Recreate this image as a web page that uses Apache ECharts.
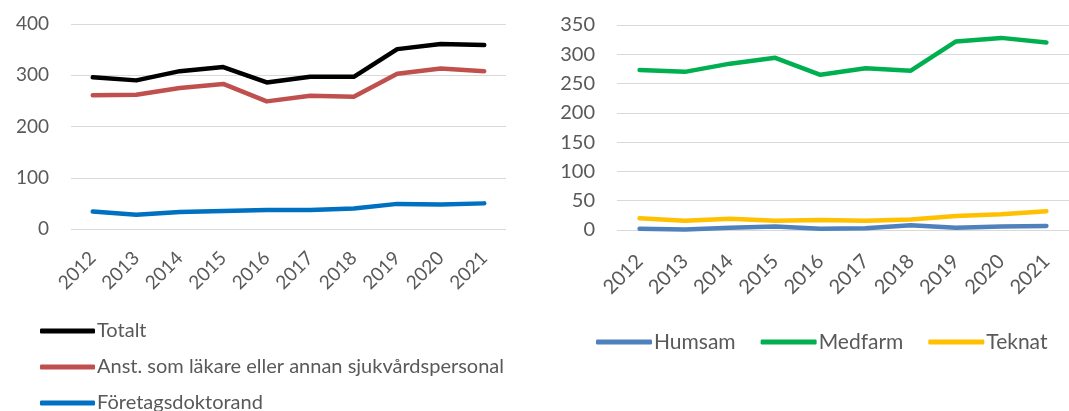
<!DOCTYPE html>
<html>
<head>
<meta charset="utf-8">
<script src="https://cdn.jsdelivr.net/npm/echarts@6/dist/echarts.min.js"></script>
<style>
  html, body { margin: 0; padding: 0; background: #fff; }
  #chart { width: 1069px; height: 411px; }
</style>
</head>
<body>
<div id="chart"></div>
<script>
// Years on both category axes
const years = ['2012', '2013', '2014', '2015', '2016', '2017', '2018', '2019', '2020', '2021'];

// Left panel: by employment type
const totalt = [296, 290, 308, 316, 286, 297, 297, 351, 361, 359];
const anstSjukvard = [261, 262, 275, 283, 249, 260, 258, 303, 313, 308];
const foretagsdoktorand = [34, 28, 33, 35, 37, 37, 40, 49, 48, 50];

// Right panel: by faculty area
const humsam = [2, 1, 4, 6, 2, 3, 8, 4, 6, 7];
const medfarm = [273, 270, 284, 294, 265, 276, 272, 322, 328, 320];
const teknat = [20, 16, 19, 16, 17, 16, 18, 24, 27, 32];

// Y-axis tick marks
const leftTicks = { min: 0, max: 400, interval: 100 };
const rightTicks = { min: 0, max: 350, interval: 50 };

const leftNames = ['Totalt', 'Anst. som läkare eller annan sjukvårdspersonal', 'Företagsdoktorand'];
const rightNames = ['Humsam', 'Medfarm', 'Teknat'];

const FONT = 'Lato, "Open Sans", sans-serif';
const TXT = '#595959';
const GRID_LINE = '#d9d9d9';

function valueAxis(gridIndex, t, size) {
  return {
    type: 'value', gridIndex, min: t.min, max: t.max, interval: t.interval,
    axisLine: { show: false }, axisTick: { show: false },
    splitLine: { lineStyle: { color: GRID_LINE, width: 1 } },
    axisLabel: { color: TXT, fontSize: size, fontFamily: FONT, margin: 22 }
  };
}
function catAxis(gridIndex, size, margin) {
  return {
    type: 'category', gridIndex, data: years, boundaryGap: true,
    axisLine: { show: false }, axisTick: { show: false },
    axisLabel: { color: TXT, fontSize: size, fontFamily: FONT, rotate: 45, margin, interval: 0 }
  };
}
function line(name, data, color, axis) {
  return {
    name, type: 'line', data, xAxisIndex: axis, yAxisIndex: axis,
    symbol: 'none', smooth: false,
    lineStyle: { color, width: 4.5, cap: 'round', join: 'round' },
    itemStyle: { color }
  };
}
// One single-row legend per entry of the stacked left key
function leftKey(name, top) {
  return {
    data: [name], orient: 'horizontal', left: 40, top, padding: 0,
    icon: 'roundRect', itemWidth: 55, itemHeight: 5,
    textStyle: { color: TXT, fontSize: 20, fontFamily: FONT, lineHeight: 20, padding: [0, 0, 0, -3] }
  };
}

const chart = echarts.init(document.getElementById('chart'), null, { renderer: 'canvas' });
chart.setOption({
  animation: false,
  backgroundColor: '#fff',
  grid: [
    { left: 71, right: 563, top: 24, bottom: 182 },
    { left: 617, right: 0, top: 25, bottom: 181 }
  ],
  xAxis: [catAxis(0, 19, 26), catAxis(1, 20, 28)],
  yAxis: [valueAxis(0, leftTicks, 19), valueAxis(1, rightTicks, 20)],
  legend: [
    leftKey(leftNames[0], 321),
    leftKey(leftNames[1], 357),
    leftKey(leftNames[2], 393),
    {
      data: rightNames,
      orient: 'horizontal', left: 591, top: 326,
      icon: 'roundRect', itemWidth: 56, itemHeight: 5, itemGap: 25,
      textStyle: { color: TXT, fontSize: 21, fontFamily: FONT, lineHeight: 22, padding: [0, 0, 0, -3] }
    }
  ],
  series: [
    line(leftNames[0], totalt, '#000000', 0),
    line(leftNames[1], anstSjukvard, '#c0504d', 0),
    line(leftNames[2], foretagsdoktorand, '#0070c0', 0),
    line(rightNames[0], humsam, '#4f81bd', 1),
    line(rightNames[1], medfarm, '#00b050', 1),
    line(rightNames[2], teknat, '#ffc000', 1)
  ]
});
</script>
</body>
</html>
